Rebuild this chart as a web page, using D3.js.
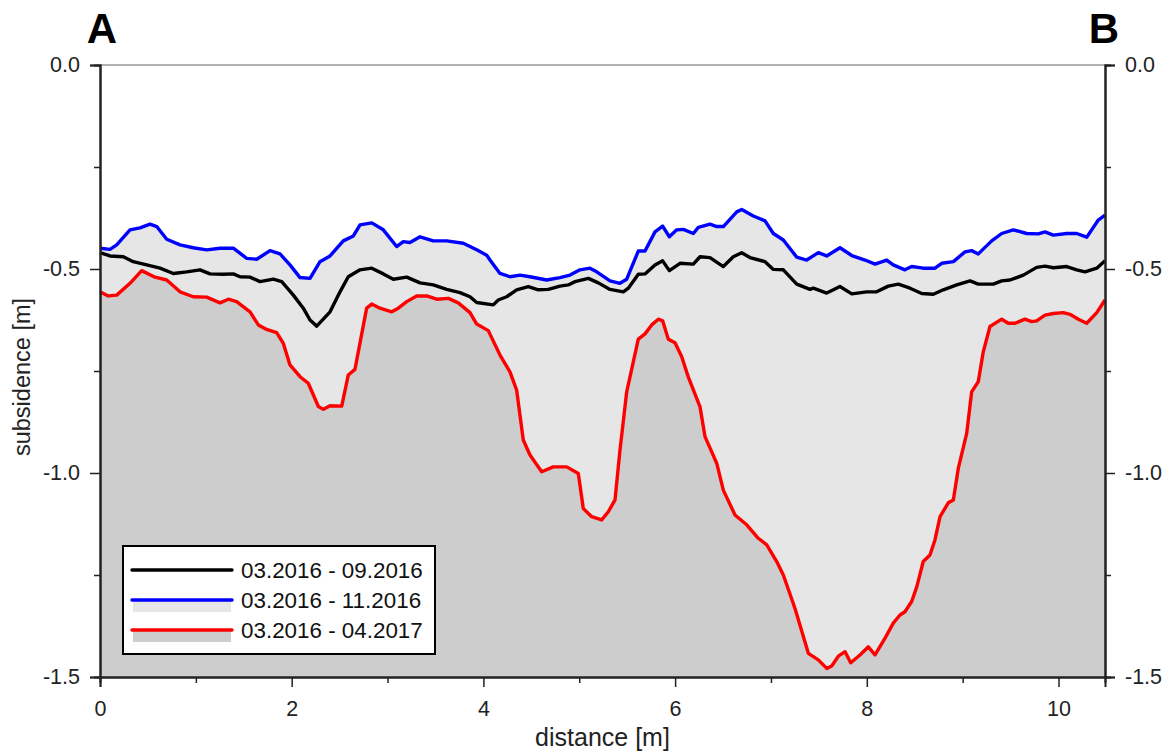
<!DOCTYPE html>
<html>
<head>
<meta charset="utf-8">
<script src="https://cdn.jsdelivr.net/npm/d3@7"></script>
<style>
    body { margin: 0; background: #fff; }
    text { font-family: "Liberation Sans", Arial, sans-serif; }
</style>
</head>
<body>
<svg id="chart" width="1174" height="751"></svg>
<script>
// distance [m], subsidence [m]
const series0916 = [
    [0, -0.460], [0.104, -0.468], [0.243, -0.470], [0.347, -0.482], [0.487, -0.490], [0.626, -0.498],
    [0.765, -0.511], [0.905, -0.507], [1.043, -0.502], [1.148, -0.512], [1.286, -0.513], [1.391, -0.512],
    [1.461, -0.519], [1.565, -0.520], [1.669, -0.531], [1.808, -0.525], [1.896, -0.531], [2.017, -0.564],
    [2.121, -0.596], [2.191, -0.625], [2.261, -0.640], [2.400, -0.605], [2.504, -0.556], [2.590, -0.519],
    [2.713, -0.502], [2.835, -0.498], [2.956, -0.512], [3.060, -0.525], [3.200, -0.520], [3.339, -0.534],
    [3.477, -0.539], [3.617, -0.550], [3.756, -0.558], [3.860, -0.568], [3.930, -0.582], [4.103, -0.588],
    [4.155, -0.576], [4.243, -0.568], [4.347, -0.551], [4.468, -0.543], [4.573, -0.551], [4.677, -0.550],
    [4.799, -0.542], [4.886, -0.539], [4.956, -0.531], [5.095, -0.523], [5.199, -0.534], [5.321, -0.550],
    [5.460, -0.556], [5.512, -0.547], [5.616, -0.513], [5.686, -0.512], [5.790, -0.490], [5.870, -0.480],
    [5.940, -0.504], [6.051, -0.486], [6.190, -0.488], [6.260, -0.470], [6.364, -0.472], [6.503, -0.494],
    [6.607, -0.470], [6.695, -0.460], [6.781, -0.472], [6.938, -0.482], [7.025, -0.501], [7.129, -0.502],
    [7.269, -0.537], [7.407, -0.550], [7.442, -0.547], [7.582, -0.559], [7.720, -0.543], [7.843, -0.561],
    [7.999, -0.556], [8.103, -0.556], [8.224, -0.542], [8.329, -0.537], [8.451, -0.547], [8.573, -0.560],
    [8.694, -0.562], [8.798, -0.551], [8.938, -0.539], [9.077, -0.529], [9.163, -0.537], [9.320, -0.537],
    [9.407, -0.529], [9.494, -0.527], [9.633, -0.515], [9.772, -0.496], [9.859, -0.493], [9.946, -0.497],
    [10.086, -0.494], [10.190, -0.502], [10.276, -0.507], [10.399, -0.498], [10.485, -0.480]
];

const series1116 = [
    [0, -0.449], [0.104, -0.452], [0.174, -0.441], [0.313, -0.404], [0.417, -0.399], [0.522, -0.390],
    [0.592, -0.396], [0.696, -0.427], [0.835, -0.441], [0.973, -0.448], [1.113, -0.453], [1.252, -0.449],
    [1.391, -0.449], [1.531, -0.474], [1.635, -0.476], [1.774, -0.455], [1.878, -0.463], [1.982, -0.490],
    [2.087, -0.521], [2.191, -0.523], [2.295, -0.482], [2.400, -0.468], [2.538, -0.431], [2.643, -0.419],
    [2.713, -0.392], [2.835, -0.387], [2.956, -0.404], [3.095, -0.445], [3.164, -0.433], [3.234, -0.435],
    [3.339, -0.421], [3.477, -0.431], [3.617, -0.431], [3.790, -0.437], [3.930, -0.453], [4.034, -0.466],
    [4.069, -0.478], [4.173, -0.511], [4.277, -0.519], [4.382, -0.515], [4.486, -0.519], [4.660, -0.527],
    [4.799, -0.521], [4.903, -0.515], [5.008, -0.502], [5.112, -0.498], [5.182, -0.507], [5.321, -0.529],
    [5.425, -0.535], [5.495, -0.525], [5.616, -0.456], [5.686, -0.456], [5.790, -0.409], [5.870, -0.395],
    [5.940, -0.421], [6.017, -0.404], [6.086, -0.403], [6.190, -0.413], [6.242, -0.398], [6.364, -0.390],
    [6.434, -0.396], [6.503, -0.396], [6.643, -0.360], [6.695, -0.354], [6.816, -0.370], [6.938, -0.382],
    [7.025, -0.413], [7.129, -0.429], [7.269, -0.471], [7.373, -0.478], [7.494, -0.460], [7.582, -0.468],
    [7.720, -0.448], [7.843, -0.467], [7.981, -0.478], [8.086, -0.488], [8.207, -0.478], [8.276, -0.490],
    [8.398, -0.502], [8.468, -0.494], [8.589, -0.498], [8.711, -0.498], [8.781, -0.486], [8.903, -0.482],
    [9.024, -0.458], [9.094, -0.455], [9.163, -0.463], [9.303, -0.431], [9.407, -0.413], [9.528, -0.404],
    [9.668, -0.413], [9.789, -0.414], [9.859, -0.409], [9.946, -0.417], [10.086, -0.413], [10.190, -0.413],
    [10.294, -0.422], [10.346, -0.404], [10.415, -0.380], [10.485, -0.368]
];

const series0417 = [
    [0, -0.556], [0.087, -0.566], [0.174, -0.564], [0.313, -0.535], [0.435, -0.504], [0.574, -0.520],
    [0.696, -0.527], [0.835, -0.556], [0.973, -0.568], [1.113, -0.569], [1.252, -0.583], [1.339, -0.574],
    [1.426, -0.580], [1.565, -0.605], [1.652, -0.637], [1.739, -0.648], [1.843, -0.656], [1.912, -0.682],
    [1.982, -0.735], [2.087, -0.764], [2.173, -0.780], [2.278, -0.837], [2.330, -0.844], [2.400, -0.835],
    [2.522, -0.836], [2.590, -0.760], [2.660, -0.746], [2.782, -0.596], [2.835, -0.586], [2.921, -0.596],
    [3.043, -0.605], [3.112, -0.596], [3.200, -0.580], [3.304, -0.566], [3.408, -0.566], [3.513, -0.574],
    [3.634, -0.572], [3.738, -0.583], [3.860, -0.607], [3.930, -0.635], [4.051, -0.651], [4.173, -0.711],
    [4.277, -0.752], [4.347, -0.797], [4.416, -0.919], [4.486, -0.956], [4.608, -0.997], [4.729, -0.985],
    [4.869, -0.985], [4.990, -1.001], [5.042, -1.087], [5.130, -1.107], [5.234, -1.115], [5.303, -1.095],
    [5.373, -1.066], [5.425, -0.944], [5.495, -0.801], [5.616, -0.672], [5.686, -0.659], [5.756, -0.637],
    [5.825, -0.623], [5.870, -0.627], [5.929, -0.672], [5.999, -0.681], [6.069, -0.715], [6.138, -0.765],
    [6.260, -0.838], [6.312, -0.911], [6.434, -0.976], [6.503, -1.042], [6.625, -1.103], [6.747, -1.127],
    [6.868, -1.160], [6.956, -1.176], [7.060, -1.217], [7.129, -1.250], [7.251, -1.332], [7.390, -1.442],
    [7.494, -1.458], [7.582, -1.479], [7.634, -1.473], [7.703, -1.449], [7.773, -1.438], [7.832, -1.465],
    [7.929, -1.446], [8.016, -1.426], [8.086, -1.446], [8.190, -1.405], [8.276, -1.368], [8.346, -1.348],
    [8.398, -1.340], [8.468, -1.315], [8.521, -1.279], [8.589, -1.217], [8.659, -1.201], [8.711, -1.164],
    [8.764, -1.107], [8.850, -1.073], [8.903, -1.066], [8.955, -0.988], [9.042, -0.903], [9.094, -0.801],
    [9.163, -0.776], [9.215, -0.703], [9.285, -0.641], [9.407, -0.623], [9.476, -0.633], [9.546, -0.633],
    [9.650, -0.623], [9.720, -0.629], [9.772, -0.627], [9.859, -0.613], [9.946, -0.609], [10.050, -0.607],
    [10.120, -0.611], [10.207, -0.623], [10.294, -0.633], [10.399, -0.607], [10.485, -0.576]
];

const legendLabels = ["03.2016 - 09.2016", "03.2016 - 11.2016", "03.2016 - 04.2017"];
const xMajorTicks = [0, 2, 4, 6, 8, 10];
const xMinorTicks = [1, 3, 5, 7, 9];
const yMajorTicks = [0, -0.5, -1.0, -1.5];
const yMinorTicks = [-0.25, -0.75, -1.25];

const margin = {left: 100, right: 69, top: 65, bottom: 74};
const width = 1174, height = 751;
const colors = {black: "#000000", blue: "#0000ff", red: "#ff0000", fillLight: "#e6e6e6", fillDark: "#cdcdcd"};

const svg = d3.select("#chart");
const x = d3.scaleLinear().domain([0, 10.485]).range([margin.left, width - margin.right]);
const y = d3.scaleLinear().domain([-1.5, 0]).range([height - margin.bottom, margin.top]);
const fmt = d => d.toFixed(1);

function drawArea(data, fill) {
    let area = d3.area().x(d => x(d[0])).y0(y(-1.5)).y1(d => y(d[1]));
    svg.append("path").datum(data).attr("d", area).attr("fill", fill).attr("stroke", "none");
}

function drawLine(data, color) {
    let line = d3.line().x(d => x(d[0])).y(d => y(d[1]));
    svg.append("path").datum(data).attr("d", line).attr("fill", "none")
        .attr("stroke", color).attr("stroke-width", 3.4).attr("stroke-linejoin", "round");
}

function styleAxis(g) {
    g.select(".domain").attr("stroke", "#222").attr("stroke-width", 2);
    g.selectAll(".tick line").attr("stroke", "#222").attr("stroke-width", 1.5);
    g.selectAll(".tick text").attr("font-family", "Liberation Sans, Arial, sans-serif")
        .attr("font-size", 21.5).attr("fill", "#222");
}

drawArea(series1116, colors.fillLight);
drawArea(series0417, colors.fillDark);

// top frame line
svg.append("line").attr("x1", x(0)).attr("x2", x(10.485)).attr("y1", y(0)).attr("y2", y(0))
    .attr("stroke", "#999").attr("stroke-width", 1.5);

drawLine(series1116, colors.blue);
drawLine(series0916, colors.black);
drawLine(series0417, colors.red);

// axes: minor ticks first, then labelled major ticks
let xMinor = svg.append("g").attr("transform", `translate(0,${y(-1.5)})`)
    .call(d3.axisBottom(x).tickValues(xMinorTicks).tickSize(6).tickFormat(""));
styleAxis(xMinor);
let xMajor = svg.append("g").attr("transform", `translate(0,${y(-1.5)})`)
    .call(d3.axisBottom(x).tickValues(xMajorTicks).tickSize(10).tickPadding(14).tickFormat(d3.format("d")));
styleAxis(xMajor);

let yl = svg.append("g").attr("transform", `translate(${x(0)},0)`)
    .call(d3.axisLeft(y).tickValues(yMinorTicks).tickSize(6).tickFormat(""));
styleAxis(yl);
let ylMajor = svg.append("g").attr("transform", `translate(${x(0)},0)`)
    .call(d3.axisLeft(y).tickValues(yMajorTicks).tickSize(10).tickPadding(10).tickFormat(fmt));
styleAxis(ylMajor);

let yr = svg.append("g").attr("transform", `translate(${x(10.485)},0)`)
    .call(d3.axisRight(y).tickValues(yMinorTicks).tickSize(6).tickFormat(""));
styleAxis(yr);
let yrMajor = svg.append("g").attr("transform", `translate(${x(10.485)},0)`)
    .call(d3.axisRight(y).tickValues(yMajorTicks).tickSize(10).tickPadding(10).tickFormat(fmt));
styleAxis(yrMajor);

// axis titles
svg.append("text").text("distance [m]").attr("x", (x(0) + x(10.485)) / 2).attr("y", 746)
    .attr("text-anchor", "middle").attr("font-size", 25).attr("fill", "#222");
svg.append("text").text("subsidence [m]")
    .attr("transform", `translate(30,377) rotate(-90)`)
    .attr("text-anchor", "middle").attr("font-size", 23.5).attr("fill", "#222");

// profile end labels
svg.append("text").text("A").attr("x", 102).attr("y", 43).attr("text-anchor", "middle")
    .attr("font-size", 42).attr("font-weight", "bold");
svg.append("text").text("B").attr("x", 1104).attr("y", 43).attr("text-anchor", "middle")
    .attr("font-size", 42).attr("font-weight", "bold");

// legend
function drawLegend() {
    let g = svg.append("g").attr("transform", "translate(123,546)");
    g.append("rect").attr("width", 312).attr("height", 108).attr("fill", "#fff")
        .attr("stroke", "#000").attr("stroke-width", 2);
    let lineColors = [colors.black, colors.blue, colors.red];
    let fills = [null, colors.fillLight, colors.fillDark];
    legendLabels.forEach((label, i) => {
        let ly = 24 + i * 30;
        if (fills[i]) {
            g.append("rect").attr("x", 10).attr("y", ly + 1).attr("width", 98).attr("height", 11).attr("fill", fills[i]);
        }
        g.append("line").attr("x1", 9).attr("x2", 109).attr("y1", ly).attr("y2", ly)
            .attr("stroke", lineColors[i]).attr("stroke-width", 3.4).attr("stroke-linecap", "round");
        g.append("text").text(label).attr("x", 118).attr("y", ly + 8).attr("font-size", 22.4).attr("fill", "#111");
    });
}

drawLegend();
</script>
</body>
</html>
